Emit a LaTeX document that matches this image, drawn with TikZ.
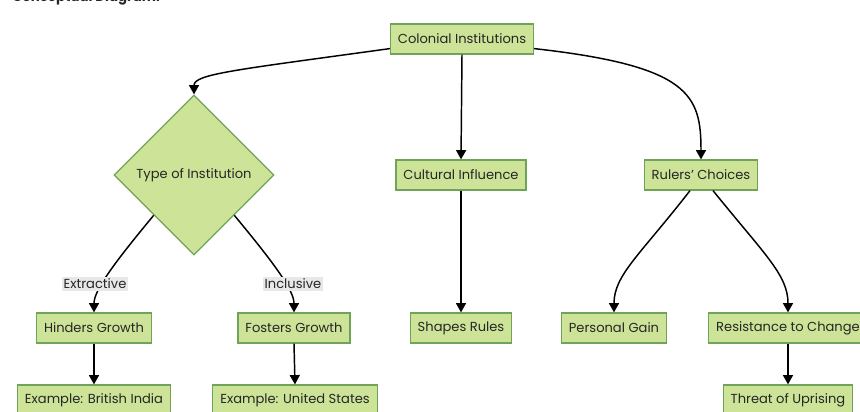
\documentclass[tikz,border=0pt]{standalone}
\usepackage{fontspec}
\setmainfont{Poppins}
\usetikzlibrary{shapes.geometric,arrows.meta,calc}
\definecolor{boxfill}{HTML}{CDE498}
\definecolor{boxline}{HTML}{6FA35A}
\definecolor{lblfill}{HTML}{E8E8E8}
\begin{document}
\begin{tikzpicture}[x=0.75pt,y=-0.75pt,
  every node/.style={font=\fontsize{9.8pt}{12pt}\selectfont, text=black!85},
  box/.style={draw=boxline, fill=boxfill, line width=0.9pt, rectangle,
    minimum height=22.5pt, inner xsep=5.6pt, inner ysep=0pt},
  decision/.style={draw=boxline, fill=boxfill, line width=0.9pt, diamond,
    aspect=1, minimum width=120pt, minimum height=120pt, inner sep=0pt},
  edgelbl/.style={fill=lblfill, inner xsep=1pt, inner ysep=1.5pt},
  link/.style={draw=black, line width=1.1pt,
    -{Triangle[length=7pt,width=7.5pt]}}]
  \useasboundingbox (0,0) rectangle (860,411);
  \clip (0,0) rectangle (860,411);

  % heading
  \node[anchor=base west, inner sep=0pt,
    font=\fontsize{10pt}{12pt}\selectfont\bfseries] (title) at (12,1) {Conceptual Diagram:};

  % nodes
  \node[box] (col) at (462,39) {Colonial Institutions};
  \node[decision] (type) at (194,175) {Type of Institution};
  \node[box] (cult) at (461,175) {Cultural Influence};
  \node[box] (rule) at (701,175) {Rulers' Choices};
  \node[box] (hind) at (94,328) {Hinders Growth};
  \node[box] (fost) at (294,328) {Fosters Growth};
  \node[box] (shap) at (461,328) {Shapes Rules};
  \node[box] (pers) at (614,328) {Personal Gain};
  \node[box] (resi) at (788,328) {Resistance to Change};
  \node[box] (exbi) at (94,400) {Example: British India};
  \node[box] (exus) at (295,400) {Example: United States};
  \node[box] (thre) at (788,400) {Threat of Uprising};

  % connectors
  \draw[link] ($(col.south west)+(0,-6)$) .. controls (235,70) and (194,74) .. (type.north);
  \draw[link] (col.south) -- (cult.north);
  \draw[link] ($(col.south east)+(0,-6)$) .. controls (690,66) and (701,95) .. (rule.north);

  \draw[link] (type.south west) .. controls (115,262) and (94,290) .. (hind.north);
  \draw[link] (type.south east) .. controls (273,262) and (294,290) .. (fost.north);
  \node[edgelbl] (lext) at (95,284) {Extractive};
  \node[edgelbl] (lincl) at (293,284) {Inclusive};

  \draw[link] (cult.south) -- (shap.north);
  \draw[link] ($(rule.south)+(-11,0)$) .. controls (640,255) and (614,275) .. (pers.north);
  \draw[link] ($(rule.south)+(12,0)$) .. controls (765,255) and (788,275) .. (resi.north);

  \draw[link] (hind.south) -- (exbi.north);
  \draw[link] (fost.south) -- (exus.north);
  \draw[link] (resi.south) -- (thre.north);
\end{tikzpicture}
\end{document}
